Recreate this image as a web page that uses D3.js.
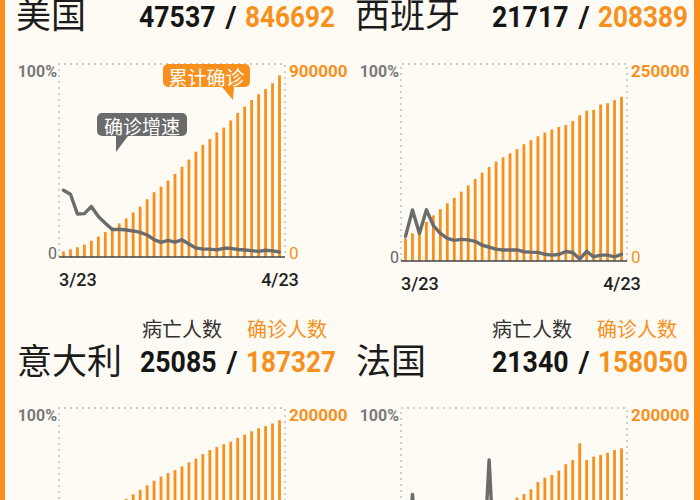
<!DOCTYPE html>
<html><head><meta charset="utf-8">
<script src="https://cdn.jsdelivr.net/npm/d3@7/dist/d3.min.js"></script>
<style>html,body{margin:0;padding:0;background:#fdfbf3;}svg{display:block}</style>
</head><body>
<svg id="c" width="700" height="500"></svg>
<script>
// ---------- data ----------
const countries = ["美国", "西班牙", "意大利", "法国"];
const deaths = [47537, 21717, 25085, 21340];
const confirmed = [846692, 208389, 187327, 158050];
const axisMax = [900000, 250000, 200000, 200000];
const dates = ["3/23","3/24","3/25","3/26","3/27","3/28","3/29","3/30","3/31",
  "4/1","4/2","4/3","4/4","4/5","4/6","4/7","4/8","4/9","4/10","4/11","4/12",
  "4/13","4/14","4/15","4/16","4/17","4/18","4/19","4/20","4/21","4/22","4/23"];
const tickLabels = ["3/23", "4/23"];
const headerLabels = ["病亡人数", "确诊人数"];

const usCases = [26000, 36000, 45000, 58000, 76000, 95000, 116000, 138000, 157000, 180000, 208000,
  235000, 269000, 302000, 328000, 356000, 387000, 421000, 454000, 491000, 523000, 550000, 581000,
  603000, 637000, 672000, 701000, 732000, 759000, 783000, 810000, 846692];
const esCases = [28768, 35136, 39885, 49515, 57786, 65719, 73235, 80110, 87956, 95923, 104118,
  112065, 119199, 126168, 131646, 136675, 141942, 148220, 153222, 158273, 163027, 166831, 170099,
  172541, 177644, 184948, 190839, 191726, 198674, 200210, 204178, 208389];
const itCases = [59138, 63927, 69176, 74386, 80589, 86498, 92472, 97689, 101739, 105792, 110574,
  115242, 119827, 124632, 128948, 132547, 135586, 139422, 143626, 147577, 152271, 156363, 159516,
  162488, 165155, 168941, 172434, 175925, 178972, 181228, 183957, 187327];
const frCases = [16200, 20100, 22600, 25600, 29600, 33400, 38100, 40700, 45200, 52800, 57700,
  59900, 65200, 90800, 93800, 99000, 106600, 110400, 115300, 122900, 127400, 130200, 134700,
  141400, 145800, 163200, 145800, 149300, 151000, 153400, 156200, 158050];

const usGrowth = [34.6, 32.5, 22.3, 22.5, 26.2, 21.0, 17.5, 14.2, 14.4, 14.0, 13.5, 12.8, 11.4, 9.0,
  7.6, 8.6, 7.7, 8.9, 6.7, 4.7, 4.1, 4.1, 3.7, 4.5, 4.5, 3.9, 3.6, 3.3, 2.9, 3.5, 3.2, 2.6];
const esGrowth = [12.5, 25.9, 14.0, 26.0, 18.0, 14.0, 11.5, 10.5, 11.0, 10.7, 10.0, 8.0, 7.1, 6.0,
  5.6, 5.6, 5.6, 4.7, 4.5, 4.4, 3.4, 3.0, 3.3, 4.8, 4.3, 1.0, 4.9, 2.1, 3.0, 3.0, 2.1, 3.4];
const itGrowth = [9.2, 8.1, 8.2, 7.5, 8.3, 7.3, 6.9, 5.6, 4.1, 4.0, 4.5, 4.2, 4.0, 4.0, 3.5, 2.8,
  2.3, 2.8, 3.0, 2.8, 3.2, 2.7, 2.0, 1.9, 1.6, 2.3, 2.1, 2.0, 1.7, 1.3, 1.5, 1.8];
const frGrowth = [11, 55, 12, 13, 15, 13, 14, 7, 11, 17, 9, 4, 73, 3, 5, 4, 5, 4, 4, 6, 4, 2, 3,
  5, 3, 12, 0, 2, 1, 2, 2, 1];

const annotationTexts = ["累计确诊", "确诊增速"];

// ---------- layout / style ----------
const W = 700, H = 500;
const ORANGE = "#f8901e";
const GRAY = "#6b6b6b";
const cases = [usCases, esCases, itCases, frCases];
const growth = [usGrowth, esGrowth, itGrowth, frGrowth];
const layout = [
  {tx: 16,  ty: 12.5, nx: 139, ny: 27,  f: {l: 59,  r: 285, t: 64,  b: 257}},
  {tx: 355, ty: 12.5, nx: 492, ny: 27,  f: {l: 401, r: 627, t: 64,  b: 261}},
  {tx: 17,  ty: 358,  nx: 140, ny: 372, hdr: [142, 247, 328], f: {l: 59,  r: 285, t: 408, b: 601}},
  {tx: 356, ty: 358,  nx: 492, ny: 372, hdr: [492, 597, 328], f: {l: 401, r: 627, t: 408, b: 600}}
];
const annoLayout = [
  {panel: 0, color: ORANGE, x: 163, y: 64, w: 87, h: 23, tri: [[222, 87], [234, 87], [233, 100]]},
  {panel: 0, color: GRAY,   x: 97,  y: 113, w: 90, h: 23, tri: [[116, 136], [128, 136], [116, 152]]}
];

const CJK = "'Noto Sans CJK SC','Noto Sans',sans-serif";
const NUM = "Roboto,'Liberation Sans',sans-serif";

const svg = d3.select("#c");
svg.append("rect").attr("width", W).attr("height", H).attr("fill", "#fdfbf3");
svg.append("rect").attr("x", 0).attr("y", 0).attr("width", 5).attr("height", H).attr("fill", ORANGE);
svg.append("rect").attr("x", 694).attr("y", 0).attr("width", 6).attr("height", H).attr("fill", ORANGE);

countries.forEach((name, i) => {
  const L = layout[i], f = L.f;
  const g = svg.append("g");

  // title
  g.append("text").attr("x", L.tx).attr("y", L.ty).attr("dominant-baseline", "central")
    .attr("font-family", CJK).attr("font-size", 35).attr("fill", "#1c1c1c").text(name);

  // header labels
  if (L.hdr) {
    g.append("text").attr("x", L.hdr[0]).attr("y", L.hdr[2]).attr("dominant-baseline", "central")
      .attr("font-family", CJK).attr("font-size", 20).attr("fill", "#333").text(headerLabels[0]);
    g.append("text").attr("x", L.hdr[1]).attr("y", L.hdr[2]).attr("dominant-baseline", "central")
      .attr("font-family", CJK).attr("font-size", 20).attr("fill", ORANGE).text(headerLabels[1]);
  }

  // numbers
  const dStr = String(deaths[i]), cStr = String(confirmed[i]);
  g.append("text").attr("x", L.nx).attr("y", L.ny).attr("font-family", NUM).attr("font-weight", 700)
    .attr("font-size", 30).attr("fill", "#161616")
    .attr("textLength", dStr.length * 15.3).attr("lengthAdjust", "spacingAndGlyphs").text(dStr);
  g.append("text").attr("x", L.nx + 92).attr("y", L.ny).attr("text-anchor", "middle")
    .attr("font-family", NUM).attr("font-weight", 700).attr("font-size", 30).attr("fill", "#161616").text("/");
  g.append("text").attr("x", L.nx + 106).attr("y", L.ny).attr("font-family", NUM).attr("font-weight", 700)
    .attr("font-size", 30).attr("fill", ORANGE)
    .attr("textLength", cStr.length * 15).attr("lengthAdjust", "spacingAndGlyphs").text(cStr);

  // scales
  const x = d3.scalePoint().domain(dates).range([f.l + 4.5, f.r - 5.5]);
  const yc = d3.scaleLinear().domain([0, axisMax[i]]).range([f.b, f.t]);
  const yg = d3.scaleLinear().domain([0, 100]).range([f.b, f.t]);

  // dotted frame
  g.append("path").attr("d", `M${f.l},${f.b}V${f.t}H${f.r}V${f.b}`)
    .attr("fill", "none").attr("stroke", "#bdbdbd").attr("stroke-width", 1.4)
    .attr("stroke-dasharray", "2,4");

  // bars
  g.selectAll("rect.bar").data(cases[i]).join("rect").attr("class", "bar")
    .attr("x", (d, j) => x(dates[j]) - 1.4).attr("width", 2.8)
    .attr("y", d => yc(d)).attr("height", d => f.b - yc(d)).attr("fill", ORANGE);

  // baseline
  g.append("line").attr("x1", f.l).attr("x2", f.r).attr("y1", f.b).attr("y2", f.b)
    .attr("stroke", "#444").attr("stroke-width", 1.5);

  // growth line
  g.append("path").datum(growth[i])
    .attr("d", d3.line().x((d, j) => x(dates[j])).y(d => yg(d)))
    .attr("fill", "none").attr("stroke", GRAY).attr("stroke-width", 3.4)
    .attr("stroke-linejoin", "round").attr("stroke-linecap", "round");

  // only tick labels that fall inside the visible 700x500 frame
  const zeroVisible = f.b - 4 + 8 < H;
  const pctTicks = zeroVisible ? [0, 100] : [100];
  const caseTicks = zeroVisible ? [0, axisMax[i]] : [axisMax[i]];

  // left axis (percent)
  const la = g.append("g").attr("transform", `translate(${f.l},0)`)
    .call(d3.axisLeft(yg).tickValues(pctTicks).tickFormat(d => d === 100 ? "100%" : "0").tickSize(0).tickPadding(2));
  la.select(".domain").remove();
  la.selectAll("text").attr("font-family", NUM).attr("font-size", 16)
    .attr("font-weight", d => d === 100 ? 700 : 400)
    .attr("fill", d => d === 100 ? "#7a7a7a" : "#666")
    .attr("y", d => d === 100 ? 7 : -4);

  // right axis (cases)
  const ra = g.append("g").attr("transform", `translate(${f.r},0)`)
    .call(d3.axisRight(yc).tickValues(caseTicks).tickFormat(d3.format("d")).tickSize(0).tickPadding(4));
  ra.select(".domain").remove();
  ra.selectAll("text").attr("font-family", NUM).attr("font-size", 17)
    .attr("font-weight", d => d === 0 ? 400 : 700).attr("fill", ORANGE)
    .attr("y", d => d === 0 ? -4 : 7);

  // bottom axis (dates)
  if (f.b + 30 < H) {
    const ba = g.append("g").attr("transform", `translate(0,${f.b})`)
      .call(d3.axisBottom(x).tickValues(tickLabels).tickSize(0));
    ba.select(".domain").remove();
    ba.selectAll("text").attr("font-family", NUM).attr("font-size", 18).attr("font-weight", 500)
      .attr("fill", "#222").attr("y", 29).attr("dy", 0)
      .attr("text-anchor", (d, k) => k === 0 ? "start" : "middle")
      .attr("x", (d, k) => k === 0 ? -5 : 0);
  }
});

// annotations (callout bubbles)
annoLayout.forEach((a, k) => {
  const g = svg.append("g");
  g.append("rect").attr("x", a.x).attr("y", a.y).attr("width", a.w).attr("height", a.h)
    .attr("rx", 5).attr("fill", a.color);
  g.append("path").attr("d", "M" + a.tri.map(p => p.join(",")).join("L") + "Z").attr("fill", a.color);
  g.append("text").attr("x", a.x + a.w / 2).attr("y", a.y + a.h / 2 + 0.5)
    .attr("text-anchor", "middle").attr("dominant-baseline", "central")
    .attr("font-family", CJK).attr("font-size", 19).attr("fill", "#fff").text(annotationTexts[k]);
});
</script>
</body></html>
